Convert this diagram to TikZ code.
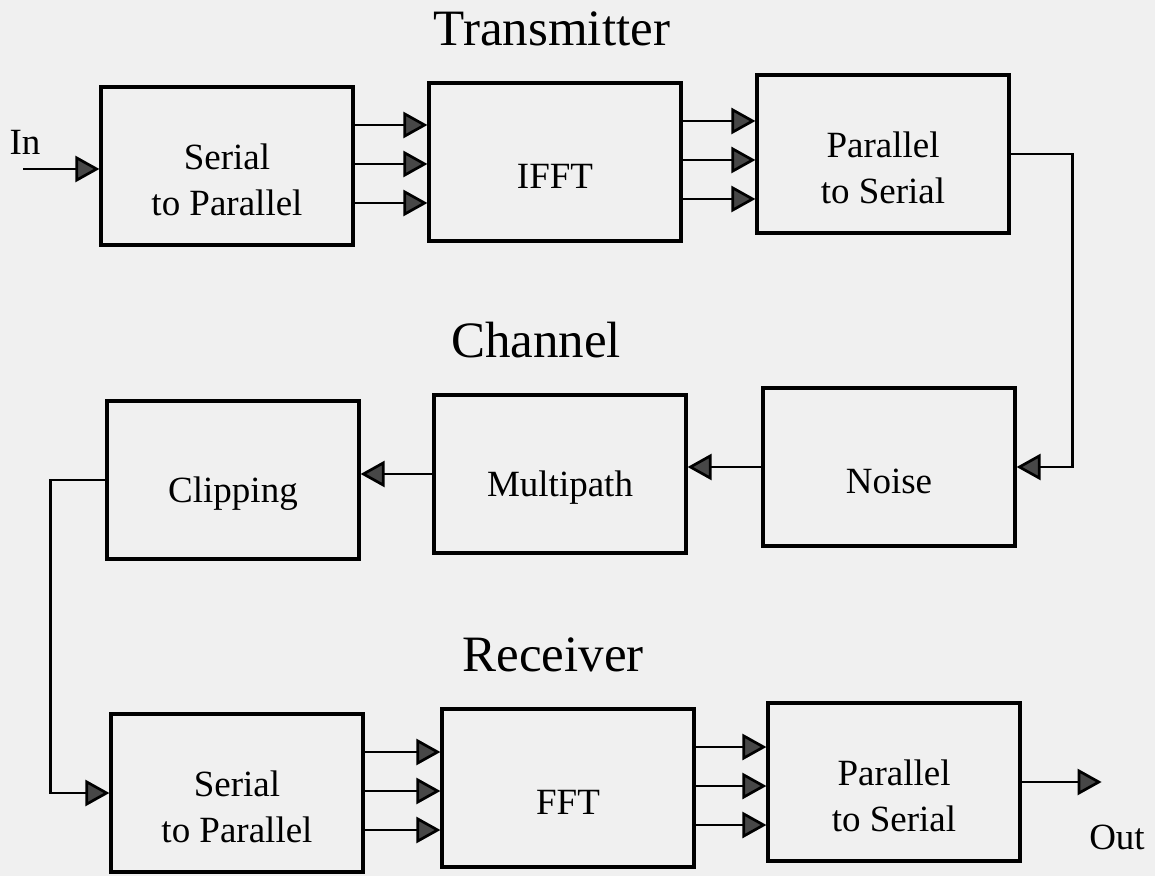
\documentclass[tikz,border=0pt]{standalone}
\usepackage{fontspec}
\setmainfont{Liberation Serif}
\usetikzlibrary{positioning, arrows.meta, calc}
\tikzset{>={Triangle[length=12pt, width=13pt, fill=black!72]}}

\begin{document}
\begin{tikzpicture}[
    x=0.5pt, y=-0.5pt,
    font=\fontsize{18.5}{23}\selectfont,
    lbl/.style={align=center, yshift=-7pt},
    box/.style={draw, line width=1.6pt, inner sep=0pt,
                minimum width=126pt, minimum height=79pt,
                label={[lbl]center:#1}},
    title/.style={font=\fontsize{25.5}{30}\selectfont},
    sig/.style={->, line width=1.35pt},
  ]
  \useasboundingbox[fill=black!6] (0,0) rectangle (1155,876);
  % transmitter
  \node[title] (tx) at (552,29) {Transmitter};
  \node[box={Serial\\to Parallel}] (sp) at (227,166) {};
  \node[box=IFFT] (ifft) at (555,162) {};
  \node[box={Parallel\\to Serial}] (ps) at (883,154) {};
  \node (in) at (25,142) {In};
  \coordinate (src) at (23,169);
  % channel
  \node[title] (ch) at (536,340) {Channel};
  \node[box=Noise] (noise) at (889,467) {};
  \node[box=Multipath] (mp) at (560,474) {};
  \node[box=Clipping] (clip) at (233,480) {};
  % receiver
  \node[title] (rx) at (553,655) {Receiver};
  \node[box={Serial\\to Parallel}] (sp2) at (237,793) {};
  \node[box=FFT] (fft) at (568,788) {};
  \node[box={Parallel\\to Serial}] (ps2) at (894,782) {};
  \node (out) at (1117,837) {Out};

  \draw[sig] (src) -- (src -| sp.west);
  \foreach \d in {20.5pt, 1pt, -18.5pt} {
    \draw[sig] ([yshift=\d]sp.east) -- ([yshift=\d]sp.east -| ifft.west);
    \draw[sig] ([yshift=\d]ifft.east) -- ([yshift=\d]ifft.east -| ps.west);
    \draw[sig] ([yshift=\d]sp2.east) -- ([yshift=\d]sp2.east -| fft.west);
    \draw[sig] ([yshift=\d]fft.east) -- ([yshift=\d]fft.east -| ps2.west);
  }
  \draw[sig] (ps.east) -- ++(31pt,0) |- (noise.east);
  \draw[sig] (noise.west) -- (noise.west -| mp.east);
  \draw[sig] (mp.west) -- (mp.west -| clip.east);
  \draw[sig] (clip.west) -- ++(-27.5pt,0) |- (sp2.west);
  \draw[sig] (ps2.east) -- ++(40pt,0);
\end{tikzpicture}
\end{document}
